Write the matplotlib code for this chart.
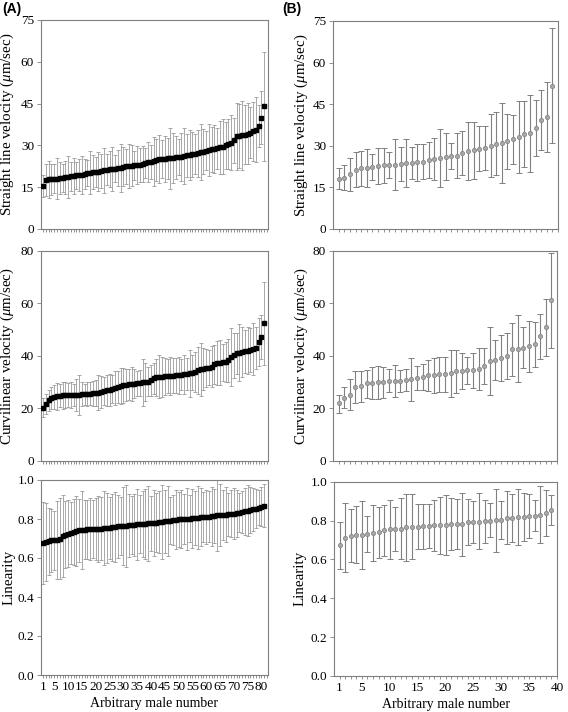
import matplotlib
matplotlib.use("Agg")
import matplotlib.pyplot as plt
from matplotlib.ticker import FixedLocator

plt.rcParams['font.family'] = ['Liberation Serif', 'DejaVu Serif']
plt.rcParams['mathtext.fontset'] = 'custom'
plt.rcParams['mathtext.rm'] = 'Liberation Serif'
plt.rcParams['mathtext.it'] = 'Liberation Serif:italic'

# ---------------- Panel A data (81 males) ----------------
slv_a_mean = [15.5, 17.5, 17.8, 17.9, 18.0, 18.1, 18.2, 18.3, 18.5, 18.7,
              18.9, 19.0, 19.2, 19.4, 19.5, 19.7, 20.0, 20.2, 20.4, 20.5,
              20.6, 20.8, 21.0, 21.3, 21.5, 21.6, 21.7, 21.8, 22.0, 22.3,
              22.5, 22.6, 22.7, 22.8, 22.9, 23.0, 23.3, 23.6, 23.9, 24.0,
              24.3, 24.8, 25.0, 25.1, 25.2, 25.3, 25.4, 25.5, 25.7, 25.8,
              26.0, 26.2, 26.4, 26.6, 26.8, 27.0, 27.2, 27.5, 27.8, 28.1,
              28.3, 28.6, 28.8, 29.0, 29.3, 29.6, 30.0, 30.4, 31.0, 31.8,
              33.2, 33.4, 33.6, 33.9, 34.2, 34.5, 35.0, 35.6, 37.0, 40.0,
              44.0]
slv_a_sd = [4.0, 5.8, 6.5, 5.6, 5.2, 7.2, 5.8, 5.0, 6.0, 7.5,
            5.2, 6.3, 4.8, 5.6, 6.8, 5.5, 4.6, 7.8, 6.2, 5.4,
            7.0, 6.0, 8.2, 5.5, 6.6, 7.8, 4.8, 6.4, 8.6, 7.0,
            6.2, 8.0, 7.4, 5.2, 6.8, 6.0, 6.6, 5.4, 7.2, 6.0,
            8.8, 7.6, 8.6, 6.8, 8.2, 7.2, 11.0, 9.0, 7.8, 6.4,
            8.6, 10.2, 7.6, 9.0, 8.0, 7.2, 8.4, 10.0, 8.2, 7.0,
            9.4, 8.0, 8.6, 7.4, 9.6, 10.0, 8.4, 9.0, 9.8, 8.0,
            12.0, 11.6, 12.4, 10.6, 11.0, 9.2, 10.6, 11.6, 7.6, 9.4,
            19.5]
vcl_a_mean = [20.2, 21.5, 23.1, 23.8, 24.2, 24.5, 24.7, 24.9, 25.0, 25.0,
              25.0, 25.1, 25.1, 25.2, 25.3, 25.4, 25.5, 25.6, 25.7, 25.8,
              25.9, 26.2, 26.5, 26.8, 27.0, 27.3, 27.6, 28.0, 28.5, 28.7,
              28.9, 29.1, 29.3, 29.4, 29.5, 29.6, 29.8, 30.0, 30.1, 30.6,
              31.4, 31.7, 31.9, 32.0, 32.1, 32.2, 32.3, 32.4, 32.5, 32.6,
              32.8, 33.0, 33.1, 33.3, 33.6, 33.9, 34.5, 34.8, 35.0, 35.2,
              35.5, 35.8, 36.8, 37.1, 37.3, 37.5, 37.7, 38.3, 39.6, 40.2,
              40.9, 41.2, 41.5, 41.7, 41.9, 42.2, 42.5, 42.9, 45.3, 47.2,
              52.3]
vcl_a_sd = [3.5, 3.8, 4.0, 4.2, 4.6, 5.0, 4.4, 5.2, 4.8, 4.6,
            5.0, 4.2, 6.0, 7.6, 4.5, 4.0, 4.6, 4.2, 4.8, 5.0,
            6.6, 6.0, 5.4, 6.0, 6.2, 5.2, 6.4, 6.0, 6.8, 6.6,
            6.2, 5.8, 6.4, 5.6, 4.8, 5.0, 9.0, 7.2, 5.6, 6.0,
            5.8, 7.0, 8.2, 7.6, 7.0, 6.4, 7.2, 6.6, 6.8, 7.0,
            6.0, 7.4, 6.2, 9.0, 6.8, 7.6, 9.0, 10.0, 8.0, 7.2,
            6.6, 7.8, 7.4, 8.4, 8.6, 7.0, 7.6, 8.2, 11.0, 8.6,
            7.8, 10.8, 9.6, 8.2, 9.0, 8.4, 9.8, 8.0, 9.2, 8.4,
            15.8]
lin_a_mean = [0.675, 0.680, 0.685, 0.690, 0.690, 0.692, 0.700, 0.712, 0.720, 0.725,
              0.728, 0.732, 0.737, 0.742, 0.745, 0.746, 0.747, 0.748, 0.749, 0.750,
              0.750, 0.751, 0.752, 0.753, 0.755, 0.757, 0.760, 0.762, 0.764, 0.765,
              0.766, 0.767, 0.768, 0.770, 0.772, 0.774, 0.775, 0.776, 0.777, 0.778,
              0.780, 0.782, 0.784, 0.786, 0.788, 0.790, 0.792, 0.795, 0.797, 0.798,
              0.799, 0.800, 0.801, 0.802, 0.803, 0.805, 0.807, 0.809, 0.810, 0.811,
              0.812, 0.814, 0.816, 0.818, 0.819, 0.820, 0.822, 0.825, 0.827, 0.828,
              0.830, 0.833, 0.836, 0.840, 0.843, 0.846, 0.850, 0.853, 0.857, 0.862,
              0.867]
lin_a_sd = [0.21, 0.20, 0.17, 0.16, 0.15, 0.20, 0.21, 0.21, 0.17, 0.17,
            0.16, 0.17, 0.18, 0.16, 0.20, 0.15, 0.15, 0.16, 0.15, 0.16,
            0.17, 0.16, 0.19, 0.18, 0.16, 0.17, 0.18, 0.16, 0.15, 0.20,
            0.21, 0.16, 0.15, 0.16, 0.18, 0.15, 0.17, 0.18, 0.19, 0.14,
            0.17, 0.15, 0.16, 0.19, 0.16, 0.18, 0.12, 0.13, 0.15, 0.14,
            0.15, 0.13, 0.16, 0.12, 0.15, 0.14, 0.16, 0.15, 0.13, 0.14,
            0.13, 0.15, 0.14, 0.18, 0.16, 0.13, 0.14, 0.11, 0.12, 0.13,
            0.12, 0.10, 0.11, 0.12, 0.13, 0.12, 0.11, 0.10, 0.09, 0.10,
            0.11]

# ---------------- Panel B data (39 males) ----------------
slv_b_mean = [18.0, 18.5, 19.7, 21.3, 22.0, 22.0, 22.3, 22.8, 23.0, 23.2,
              23.2, 23.5, 23.8, 23.8, 24.0, 24.3, 24.8, 25.3, 25.6, 26.1,
              26.3, 26.5, 27.3, 28.1, 28.4, 28.8, 29.2, 30.1, 30.8, 31.1,
              31.7, 32.3, 33.1, 34.2, 34.6, 36.5, 39.2, 40.4, 51.7]
slv_b_lo = [14.5, 14.0, 13.7, 15.0, 15.5, 15.0, 17.5, 16.3, 16.5, 18.5,
            14.0, 17.3, 15.2, 18.2, 17.2, 18.0, 18.3, 17.8, 15.3, 17.5,
            21.7, 18.5, 19.5, 17.6, 18.2, 20.8, 21.1, 18.8, 19.5, 16.7,
            21.8, 23.3, 20.2, 22.5, 20.6, 26.3, 28.4, 27.8, 30.9]
slv_b_hi = [22.0, 23.0, 25.7, 27.8, 28.3, 29.0, 27.2, 29.3, 29.3, 27.8,
            32.5, 29.6, 32.3, 29.5, 30.7, 30.6, 31.3, 32.7, 36.0, 34.7,
            31.0, 34.5, 35.2, 38.7, 38.7, 37.0, 37.3, 41.3, 42.1, 45.6,
            41.6, 41.2, 46.0, 46.1, 48.4, 46.5, 50.0, 53.0, 72.5]
vcl_b_mean = [21.8, 24.0, 25.2, 28.0, 28.4, 29.5, 29.6, 29.8, 29.8, 30.3,
              30.5, 30.5, 30.8, 31.1, 31.6, 31.9, 32.6, 32.5, 32.9, 32.9,
              33.4, 34.0, 34.1, 34.6, 34.6, 35.1, 36.0, 37.9, 38.5, 39.0,
              39.9, 42.4, 42.7, 43.1, 43.7, 44.4, 47.4, 50.8, 61.1]
vcl_b_lo = [18.3, 20.0, 19.5, 22.0, 22.5, 24.0, 23.5, 23.4, 24.0, 26.0,
            24.2, 26.3, 26.6, 22.7, 27.0, 26.9, 26.7, 25.8, 26.1, 26.1,
            24.3, 25.7, 27.2, 29.2, 27.8, 27.1, 29.2, 25.0, 30.8, 30.2,
            31.0, 32.3, 29.9, 35.3, 33.9, 35.7, 38.9, 40.0, 43.0]
vcl_b_hi = [25.0, 28.0, 31.0, 34.0, 34.0, 34.5, 35.8, 36.0, 35.6, 34.8,
            36.5, 34.5, 35.0, 39.3, 36.0, 37.0, 38.4, 39.1, 39.5, 39.6,
            42.3, 42.3, 41.0, 39.6, 41.2, 43.1, 43.0, 50.8, 46.0, 47.9,
            48.8, 52.4, 55.5, 50.9, 53.3, 53.0, 55.8, 61.5, 79.0]
lin_b_mean = [0.672, 0.712, 0.722, 0.726, 0.727, 0.733, 0.735, 0.740, 0.752, 0.754,
              0.756, 0.758, 0.765, 0.768, 0.769, 0.770, 0.772, 0.775, 0.776, 0.778,
              0.780, 0.781, 0.782, 0.792, 0.793, 0.795, 0.797, 0.800, 0.801, 0.802,
              0.813, 0.815, 0.818, 0.820, 0.822, 0.826, 0.830, 0.840, 0.855]
lin_b_lo = [0.549, 0.535, 0.585, 0.580, 0.550, 0.640, 0.592, 0.608, 0.620, 0.600,
            0.642, 0.600, 0.592, 0.600, 0.655, 0.656, 0.660, 0.645, 0.630, 0.625,
            0.648, 0.652, 0.620, 0.672, 0.686, 0.652, 0.685, 0.713, 0.636, 0.704,
            0.678, 0.692, 0.676, 0.697, 0.710, 0.745, 0.683, 0.722, 0.775]
lin_b_hi = [0.794, 0.890, 0.858, 0.874, 0.902, 0.826, 0.878, 0.872, 0.882, 0.905,
            0.871, 0.917, 0.937, 0.935, 0.884, 0.884, 0.884, 0.904, 0.920, 0.930,
            0.915, 0.910, 0.943, 0.910, 0.900, 0.940, 0.906, 0.888, 0.963, 0.900,
            0.952, 0.937, 0.960, 0.944, 0.935, 0.908, 0.977, 0.958, 0.930]

ylabel_slv = r'Straight line velocity ($\mu$m/sec)'
ylabel_vcl = r'Curvilinear velocity ($\mu$m/sec)'
ylabel_lin = 'Linearity'
xlabel = 'Arbitrary male number'
a_ticks = [1, 5, 10, 15, 20, 25, 30, 35, 40, 45, 50, 55, 60, 65, 70, 75, 80]
b_ticks = [1, 5, 10, 15, 20, 25, 30, 35, 40]

W, H = 568, 712
fig = plt.figure(figsize=(W / 100, H / 100), dpi=100)

def add_ax(l, r, t, b):
    return fig.add_axes([l / W, 1 - b / H, (r - l) / W, (b - t) / H])

SPINE = '#7f7f7f'

def style(ax, ylim, yticks, yfmt):
    for s in ax.spines.values():
        s.set_color(SPINE)
        s.set_linewidth(0.8)
    ax.set_ylim(*ylim)
    ax.set_yticks(yticks)
    ax.set_yticklabels([yfmt.format(v) for v in yticks])
    ax.tick_params(axis='both', which='both', direction='out', color=SPINE,
                   width=0.6, labelsize=9.5, pad=2)
    ax.tick_params(axis='y', length=3)
    ax.tick_params(axis='x', which='both', length=2.5)

# ---------- Panel A ----------
xa = list(range(1, len(slv_a_mean) + 1))
a_axes = [add_ax(41, 267.5, 20, 229), add_ax(41, 267.5, 250.7, 460.7),
          add_ax(41, 267.5, 480, 675)]
a_data = [(slv_a_mean, slv_a_sd, (0, 75), [0, 15, 30, 45, 60, 75], '{:g}', ylabel_slv),
          (vcl_a_mean, vcl_a_sd, (0, 80), [0, 20, 40, 60, 80], '{:g}', ylabel_vcl),
          (lin_a_mean, lin_a_sd, (0, 1.0), [0, 0.2, 0.4, 0.6, 0.8, 1.0], '{:.1f}', ylabel_lin)]
for i, (ax, (m, sd, yl, yt, fmt, lab)) in enumerate(zip(a_axes, a_data)):
    ax.errorbar(xa, m, yerr=sd, fmt='none', ecolor='#9a9a9a', elinewidth=0.6,
                capsize=1.6, capthick=0.6)
    ax.plot(xa, m, linestyle='none', marker='s', markersize=2.4,
            color='black', zorder=3)
    style(ax, yl, yt, fmt)
    ax.set_xlim(0.2, 82.2)
    ax.xaxis.set_major_locator(FixedLocator(a_ticks))
    ax.xaxis.set_minor_locator(FixedLocator(list(range(1, 83))))
    if i < 2:
        ax.set_xticklabels([])
    else:
        ax.set_xticklabels([str(t) for t in a_ticks])
        ax.set_xlabel(xlabel, fontsize=10, labelpad=3)
    ax.set_ylabel(lab, fontsize=10.8)
    ax.yaxis.set_label_coords(-25 / 226.5, 0.5)

# ---------- Panel B ----------
xb = list(range(1, len(slv_b_mean) + 1))
b_axes = [add_ax(333, 558, 21, 229), add_ax(333, 557, 250.7, 460.7),
          add_ax(334, 557, 481.7, 676)]
b_data = [(slv_b_mean, slv_b_lo, slv_b_hi, (0, 75), [0, 15, 30, 45, 60, 75], '{:g}', ylabel_slv, -23),
          (vcl_b_mean, vcl_b_lo, vcl_b_hi, (0, 80), [0, 20, 40, 60, 80], '{:g}', ylabel_vcl, -23),
          (lin_b_mean, lin_b_lo, lin_b_hi, (0, 1.0), [0, 0.2, 0.4, 0.6, 0.8, 1.0], '{:.1f}', ylabel_lin, -28)]
for i, (ax, (m, lo, hi, yl, yt, fmt, lab, off)) in enumerate(zip(b_axes, b_data)):
    yerr = [[mv - l for mv, l in zip(m, lo)], [h - mv for mv, h in zip(m, hi)]]
    ax.errorbar(xb, m, yerr=yerr, fmt='none', ecolor='#808080', elinewidth=0.8,
                capsize=2.3, capthick=0.7)
    ax.plot(xb, m, linestyle='none', marker='o', markersize=3.0,
            markerfacecolor='#a8a8a8', markeredgecolor='#888888',
            markeredgewidth=0.6, zorder=3)
    style(ax, yl, yt, fmt)
    ax.set_xlim(0, 40)
    ax.xaxis.set_major_locator(FixedLocator(b_ticks))
    ax.xaxis.set_minor_locator(FixedLocator(list(range(1, 41))))
    if i < 2:
        ax.set_xticklabels([])
    else:
        ax.set_xticklabels([str(t) for t in b_ticks])
        ax.set_xlabel(xlabel, fontsize=10, labelpad=3)
    ax.set_ylabel(lab, fontsize=10.8)
    ax.yaxis.set_label_coords(off / 224, 0.5)

fig.text(2 / W, 1 - 9 / H, '(A)', fontsize=10, fontweight='bold',
         family=['Liberation Sans', 'DejaVu Sans'], va='center', ha='left')
fig.text(282 / W, 1 - 9 / H, '(B)', fontsize=10, fontweight='bold',
         family=['Liberation Sans', 'DejaVu Sans'], va='center', ha='left')

fig.savefig('out.png', dpi=100)
